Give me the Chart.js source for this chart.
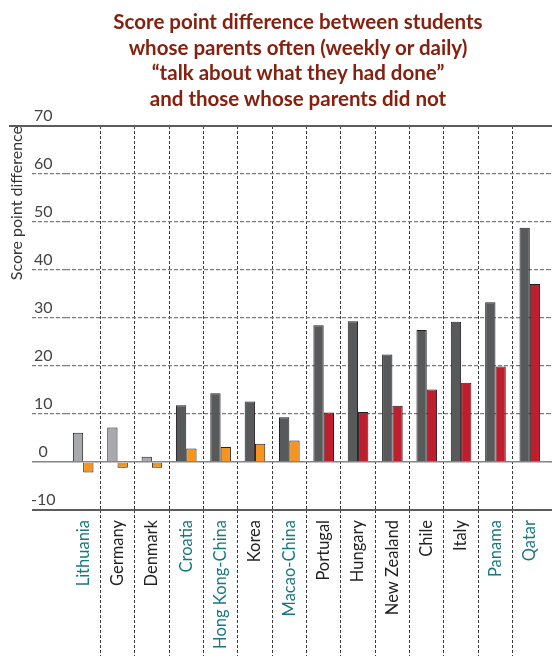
<!DOCTYPE html>
<html>
<head>
<meta charset="utf-8">
<script src="https://cdn.jsdelivr.net/npm/chart.js@4"></script>
<style>
  html, body { margin: 0; padding: 0; background: #fff; }
  #wrap { position: relative; width: 552px; height: 659px; }
  #title {
    position: absolute; left: 0; top: 9px; width: 552px; box-sizing: border-box;
    padding-left: 44px; text-align: center;
    font-family: Lato, "Open Sans", sans-serif; font-weight: bold; font-size: 20.5px;
    line-height: 25.7px; color: #86200f;
  }
  canvas { position: absolute; left: 0; top: 0; }
</style>
</head>
<body>
<div id="wrap">
  <canvas id="c" width="552" height="659"></canvas>
  <div id="title">Score point difference between students<br>whose parents often (weekly or daily)<br>“talk about what they had done”<br>and those whose parents did not</div>
</div>
<script>
const categories = ["Lithuania", "Germany", "Denmark", "Croatia", "Hong Kong-China", "Korea", "Macao-China",
  "Portugal", "Hungary", "New Zealand", "Chile", "Italy", "Panama", "Qatar"];
const partnerEconomies = ["Lithuania", "Croatia", "Hong Kong-China", "Macao-China", "Panama", "Qatar"];
const beforeValues = [6.1, 7.2, 1.1, 11.8, 14.3, 12.6, 9.3, 28.5, 29.3, 22.4, 27.5, 29.2, 33.3, 48.8];
const afterValues = [-2.2, -1.2, -1.2, 2.8, 3.1, 3.8, 4.5, 10.3, 10.4, 11.7, 15.1, 16.5, 19.9, 37.1];
const beforeColors = ["#a7a9ac", "#a7a9ac", "#a7a9ac", "#58595b", "#58595b", "#58595b", "#58595b",
  "#58595b", "#58595b", "#58595b", "#58595b", "#58595b", "#58595b", "#58595b"];
const afterColors = ["#f7941d", "#f7941d", "#f7941d", "#f7941d", "#f7941d", "#f7941d", "#f7941d",
  "#be1e2d", "#be1e2d", "#be1e2d", "#be1e2d", "#be1e2d", "#be1e2d", "#be1e2d"];
const yTicks = { min: -10, max: 70, step: 10 };
const yTitle = "Score point difference";

const FONT = "Lato, 'Open Sans', sans-serif";

function isSolid(v) { return v === yTicks.min || v === yTicks.max || v === 0; }
function hColor(ctx) {
  const v = ctx.tick ? ctx.tick.value : null;
  if (v === yTicks.min || v === yTicks.max) return "#5c5c5c";
  if (v === 0) return "#858585";
  return "#7d7d7d";
}
function hWidth(ctx) {
  const v = ctx.tick ? ctx.tick.value : null;
  if (v === yTicks.min || v === yTicks.max) return 2;
  if (v === 0) return 1.6;
  return 1.2;
}
function hDash(ctx) {
  const v = ctx.tick ? ctx.tick.value : null;
  return isSolid(v) ? [] : [4, 2];
}
function vColor(ctx) {
  if (ctx.index === 0 || ctx.index === undefined) return "rgba(0,0,0,0)";
  return "#3a3a3a";
}

const topLineExt = {
  id: "topLineExt",
  beforeDatasetsDraw(chart) {
    const y = chart.scales.y.getPixelForValue(yTicks.max);
    const c = chart.ctx;
    c.save();
    c.strokeStyle = "#5c5c5c";
    c.lineWidth = 2;
    c.beginPath();
    c.moveTo(9, y);
    c.lineTo(chart.chartArea.left - 33, y);
    c.stroke();
    c.restore();
  }
};

new Chart(document.getElementById("c"), {
  type: "bar",
  data: {
    labels: categories,
    datasets: [
      { label: "Before", data: beforeValues, backgroundColor: beforeColors, borderColor: "#231f20", borderWidth: 1,
        categoryPercentage: 0.6, barPercentage: 1.0 },
      { label: "After", data: afterValues, backgroundColor: afterColors, borderColor: "#231f20", borderWidth: 1,
        categoryPercentage: 0.6, barPercentage: 1.0 }
    ]
  },
  options: {
    responsive: false,
    animation: false,
    devicePixelRatio: 1,
    layout: { padding: { top: 126, left: 0, right: 0, bottom: 0 } },
    plugins: { legend: { display: false }, title: { display: false }, tooltip: { enabled: false } },
    scales: {
      x: {
        offset: true,
        grid: {
          offset: true, color: vColor, tickColor: vColor, lineWidth: 1, tickWidth: 1,
          tickLength: 146, tickBorderDash: [3, 2], drawTicks: true
        },
        border: { display: false, dash: [3, 2] },
        ticks: {
          autoSkip: false, minRotation: 90, maxRotation: 90, padding: -136,
          font: { family: FONT, size: 16.5 },
          color: (ctx) => partnerEconomies.includes(categories[ctx.index]) ? "#17787e" : "#222222"
        },
        afterFit(scale) { scale.height = 149; }
      },
      y: {
        position: "left",
        min: yTicks.min, max: yTicks.max,
        grid: { color: hColor, tickColor: hColor, lineWidth: hWidth, tickWidth: hWidth,
          tickBorderDash: hDash, tickLength: 34, drawTicks: true },
        border: { display: false, dash: hDash },
        ticks: { stepSize: yTicks.step, crossAlign: "center", padding: -23.5, labelOffset: -10,
          font: { family: FONT, size: 16 }, color: "#444444" },
        title: { display: true, text: yTitle, align: "end", font: { family: FONT, size: 16 },
          color: "#333333", padding: { top: 7, bottom: 0 } },
        afterFit(scale) { scale.width = 66; }
      },
      yRight: {
        position: "right",
        min: yTicks.min, max: yTicks.max,
        grid: { drawOnChartArea: false, color: hColor, tickColor: hColor, lineWidth: hWidth, tickWidth: hWidth,
          tickBorderDash: hDash, tickLength: 5, drawTicks: true },
        border: { display: false },
        ticks: { stepSize: yTicks.step, display: false },
        afterFit(scale) { scale.width = 5; }
      }
    }
  },
  plugins: [topLineExt]
});
</script>
</body>
</html>
